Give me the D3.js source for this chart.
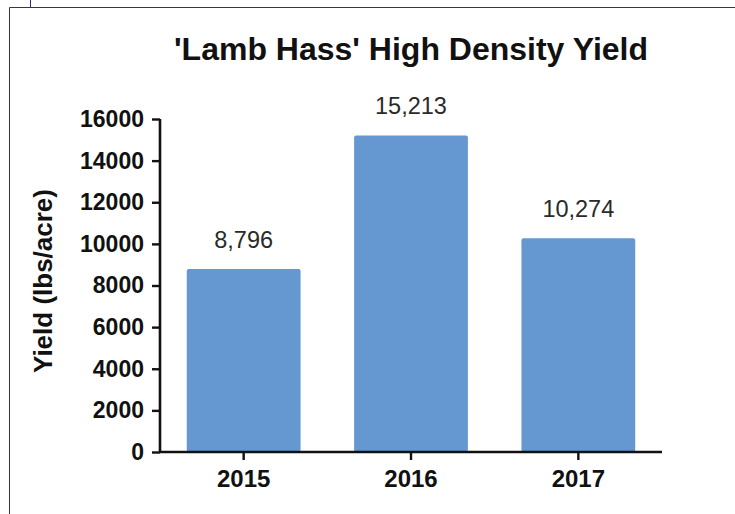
<!DOCTYPE html>
<html>
<head>
<meta charset="utf-8">
<script src="https://cdn.jsdelivr.net/npm/d3@7"></script>
<style>
  html, body { margin: 0; padding: 0; background: #fff; }
  svg { display: block; }
  text { font-family: "Liberation Sans", Arial, sans-serif; }
</style>
</head>
<body>
<svg id="chart" width="735" height="514"></svg>
<script>
const categories = ["2015", "2016", "2017"];
const yields = [8796, 15213, 10274];
const valueLabels = ["8,796", "15,213", "10,274"];
const yTicks = [0, 2000, 4000, 6000, 8000, 10000, 12000, 14000, 16000];
const titleText = "'Lamb Hass' High Density Yield";
const yLabelText = "Yield (lbs/acre)";

const svg = d3.select("#chart");

// frame lines
svg.append("path")
  .attr("d", "M9.5,514 V7.5 H735 M30.5,0 V7.5")
  .attr("fill", "none")
  .attr("stroke", "#35306a")
  .attr("stroke-width", 1);

const plotLeft = 160, plotRight = 662, plotTop = 119, plotBottom = 452;

const x = d3.scaleBand().domain(categories).range([plotLeft, plotRight]).paddingInner(0.32).paddingOuter(0.16);
const y = d3.scaleLinear().domain([0, 16000]).range([plotBottom, plotTop]);

// bars
svg.append("g").selectAll("rect")
  .data(categories)
  .join("rect")
  .attr("x", d => x(d))
  .attr("width", x.bandwidth())
  .attr("y", (d, i) => y(yields[i]))
  .attr("height", (d, i) => y(0) - y(yields[i]))
  .attr("rx", 2)
  .attr("fill", "#6598d0");

// value labels
svg.append("g").selectAll("text")
  .data(categories)
  .join("text")
  .attr("x", d => x(d) + x.bandwidth() / 2)
  .attr("y", (d, i) => y(yields[i]) - 21)
  .attr("text-anchor", "middle")
  .attr("font-size", 23.5)
  .attr("fill", "#2a2a2a")
  .text((d, i) => valueLabels[i]);

// y axis
const yAxis = svg.append("g")
  .attr("transform", `translate(${plotLeft},0)`)
  .call(d3.axisLeft(y).tickValues(yTicks).tickFormat(d3.format("d")).tickSize(8).tickPadding(8));
yAxis.select(".domain").attr("d", `M0,${plotTop}V${plotBottom}`).attr("stroke", "#111").attr("stroke-width", 2.6);
yAxis.selectAll(".tick line").attr("stroke", "#111").attr("stroke-width", 2.4);
yAxis.selectAll(".tick text")
  .attr("font-size", 23)
  .attr("font-weight", "bold")
  .attr("fill", "#111")
  .attr("font-family", "'Liberation Sans', Arial, sans-serif");

// x axis
const xAxis = svg.append("g")
  .attr("transform", `translate(0,${plotBottom})`)
  .call(d3.axisBottom(x).tickSize(8).tickPadding(10));
xAxis.select(".domain").attr("d", `M${plotLeft},0H${plotRight}`).attr("stroke", "#111").attr("stroke-width", 2.6);
xAxis.selectAll(".tick line").attr("stroke", "#111").attr("stroke-width", 2.4);
xAxis.selectAll(".tick text")
  .attr("font-size", 24)
  .attr("font-weight", "bold")
  .attr("fill", "#111")
  .attr("font-family", "'Liberation Sans', Arial, sans-serif");

// title
svg.append("text")
  .attr("x", (plotLeft + plotRight) / 2)
  .attr("y", 60)
  .attr("text-anchor", "middle")
  .attr("font-size", 32)
  .attr("font-weight", "bold")
  .attr("fill", "#111")
  .text(titleText);

// y label
svg.append("text")
  .attr("transform", `translate(52,281) rotate(-90)`)
  .attr("text-anchor", "middle")
  .attr("font-size", 26)
  .attr("font-weight", "bold")
  .attr("fill", "#111")
  .text(yLabelText);
</script>
</body>
</html>
